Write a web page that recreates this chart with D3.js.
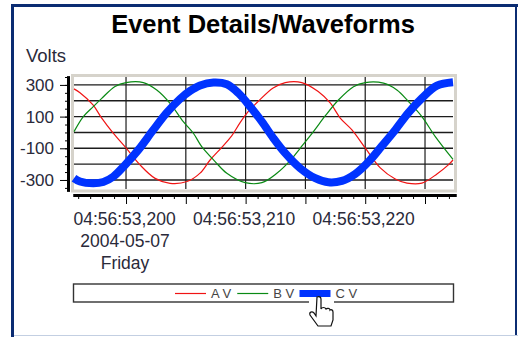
<!DOCTYPE html>
<html>
<head>
<meta charset="utf-8">
<script src="https://cdn.jsdelivr.net/npm/d3@7"></script>
<style>
  html, body { margin: 0; padding: 0; background: #fff; overflow: hidden; }
  text { font-family: "Liberation Sans", Arial, sans-serif; fill: #2a2a3a; }
</style>
</head>
<body>
<div id="chart"></div>
<script>
// time axis is milliseconds past 04:56:53
const aTime = [195.65,196.15,197.24,197.97,198.91,200,201.17,202.43,203.68,205.1,206.19,207.03,208.01,208.85,209.54,210.21,211.05,212.3,213.31,214.7,216.07,217.07,217.91,218.89,220,221.26,222.51,223.49,224.74,226,226.95,227.34];
const aVolts = [275,251,174,90,-3,-98,-205,-290,-321,-310,-257,-174,-94,-20,62,131,196,281,315,315,258,186,91,16,-98,-224,-294,-320,-320,-262,-205,-174];

const bTime = [195.65,196.43,197.26,197.97,199.08,200,201.45,202.57,203.68,204.79,205.63,206.33,207.45,208.43,209.96,211.36,212.61,213.72,214.56,215.67,216.65,217.76,219.02,220,221.53,222.65,223.62,224.74,225.86,227.34];
const bVolts = [5,100,163,215,290,315,315,268,184,68,-5,-90,-184,-258,-317,-317,-258,-178,-100,5,104,205,289,315,311,268,195,100,-26,-170];

const cTime = [195.65,196.15,197.26,198.1,198.94,199.92,201.03,202.28,203.41,204.52,205.36,206.19,207.31,208.43,209.4,210.38,211.36,212.33,213.31,214.56,215.82,216.93,218.05,219.16,220.28,221.4,222.51,223.62,224.74,226,227.34];
const cVolts = [-289,-310,-321,-313,-279,-205,-110,16,125,212,262,297,315,304,248,163,68,-37,-131,-226,-289,-315,-306,-262,-185,-85,16,125,216,295,317];

const yTicks = [300, 100, -100, -300];
const yGrid = [300, 200, 100, 0, -100, -200, -300];
const yMinor = [350, 250, 150, 50, -50, -150, -250, -350];
const xTicks = [200, 205, 210, 215, 220, 225];
const xLabels = {200: "04:56:53,200", 210: "04:56:53,210", 220: "04:56:53,220"};
const xMinor = [196,197,198,199,201,202,203,204,206,207,208,209,211,212,213,214,216,217,218,219,221,222,223,224,226,227];
const legendNames = ["A V", "B V", "C V"];
const legendColors = ["#f01414", "#0a8a14", "#0033ff"];

const svg = d3.select("#chart").append("svg")
    .attr("width", 518)
    .attr("height", 337);

// panel border
svg.append("rect").attr("x", 12.5).attr("y", 5.5).attr("width", 520).attr("height", 340)
    .attr("fill", "#fff").attr("stroke", "#0b2c72").attr("stroke-width", 3);
svg.append("line").attr("x1", 516).attr("x2", 516).attr("y1", 4).attr("y2", 335)
    .attr("stroke", "#0b2c72").attr("stroke-width", 2);
svg.append("line").attr("x1", 14).attr("x2", 518).attr("y1", 335.5).attr("y2", 335.5)
    .attr("stroke", "#c3cfe2").attr("stroke-width", 1);

svg.append("text").attr("x", 263).attr("y", 32.5)
    .attr("text-anchor", "middle").style("font-size", "25.5px").style("font-weight", "bold")
    .style("fill", "#000")
    .text("Event Details/Waveforms");

svg.append("text").attr("x", 26).attr("y", 61.5).style("font-size", "18.5px").text("Volts");

const x = d3.scaleLinear().domain([195.65, 227.34]).range([74, 453]);
const y = d3.scaleLinear().domain([350, -357]).range([77, 189]);

// plot frame
svg.append("rect").attr("x", 72.5).attr("y", 75.5).attr("width", 383).attr("height", 115.5)
    .attr("fill", "#fff").attr("stroke", "#d6d3cb").attr("stroke-width", 3);

// grid
svg.append("g").selectAll("line").data(yGrid).join("line")
    .attr("x1", 74).attr("x2", 453)
    .attr("y1", d => y(d)).attr("y2", d => y(d))
    .attr("stroke", "#1c1c1c").attr("stroke-width", 1.4);
svg.append("g").selectAll("line").data(xTicks).join("line")
    .attr("x1", d => x(d)).attr("x2", d => x(d))
    .attr("y1", 77).attr("y2", 189)
    .attr("stroke", "#1c1c1c").attr("stroke-width", 1.2);

// waveforms
const line = d3.line().curve(d3.curveCatmullRom.alpha(0.5));
const wave = (t, v) => line(t.map((d, i) => [x(d), y(v[i])]));

svg.append("path").attr("d", wave(aTime, aVolts))
    .attr("fill", "none").attr("stroke", legendColors[0]).attr("stroke-width", 1.2);
svg.append("path").attr("d", wave(bTime, bVolts))
    .attr("fill", "none").attr("stroke", legendColors[1]).attr("stroke-width", 1.2);
svg.append("path").attr("d", wave(cTime, cVolts))
    .attr("fill", "none").attr("stroke", legendColors[2]).attr("stroke-width", 8);

// y axis
const yAxisScale = y.copy().domain([y.invert(76), y.invert(191)]).range([76, 191]);
const yAxisG = svg.append("g").attr("transform", "translate(68,0)");
yAxisG.call(d3.axisLeft(yAxisScale).tickValues(yMinor).tickSize(3).tickSizeOuter(0).tickFormat(""));
yAxisG.append("g").call(d3.axisLeft(yAxisScale).tickValues(yGrid).tickSize(3).tickSizeOuter(0).tickFormat(""));
yAxisG.append("g").call(d3.axisLeft(yAxisScale).tickValues(yTicks).tickSize(8).tickSizeOuter(0).tickPadding(6)
    .tickFormat(d => String(d)));
yAxisG.selectAll(".domain").attr("stroke", "#000").attr("stroke-width", 3);
yAxisG.selectAll("text").style("font-size", "17px").style("font-family", null);

// x axis
const xAxisScale = x.copy().domain([x.invert(73), x.invert(456)]).range([73, 456]);
const xAxisG = svg.append("g").attr("transform", "translate(0,195)");
xAxisG.call(d3.axisBottom(xAxisScale).tickValues(xMinor).tickSize(4).tickSizeOuter(0).tickFormat(""));
xAxisG.append("g").call(d3.axisBottom(xAxisScale).tickValues(xTicks).tickSize(9).tickSizeOuter(0)
    .tickFormat(d => xLabels[d] || ""));
xAxisG.selectAll(".domain").attr("stroke", "#000").attr("stroke-width", 3);
xAxisG.selectAll("text").style("font-size", "17.5px").attr("y", 30).attr("dy", 0).attr("dx", -2);

svg.append("text").attr("x", 125).attr("y", 247).attr("text-anchor", "middle")
    .style("font-size", "17.5px").text("2004-05-07");
svg.append("text").attr("x", 125).attr("y", 269).attr("text-anchor", "middle")
    .style("font-size", "17.5px").text("Friday");

// legend
svg.append("rect").attr("x", 73.5).attr("y", 284).attr("width", 380).attr("height", 18)
    .attr("fill", "#fff").attr("stroke", "#333").attr("stroke-width", 1.4);

const legendX = d3.scalePoint().domain(legendNames).range([175, 299.5]);
const legend = svg.append("g").selectAll("g").data(legendNames).join("g")
    .attr("transform", d => `translate(${legendX(d)},293.5)`);
legend.append("line").attr("x1", 0).attr("x2", 31).attr("y1", 0).attr("y2", 0)
    .attr("stroke", (d, i) => legendColors[i])
    .attr("stroke-width", (d, i) => i === 2 ? 7 : 1.2);
legend.append("text").attr("x", 36).attr("y", 4.5)
    .style("font-size", "13px").style("fill", "#444")
    .text(d => d);

// hand cursor
svg.append("rect").attr("x", 309).attr("y", 298).attr("width", 25).attr("height", 8).attr("fill", "#fff");
svg.append("path")
    .attr("d", "M317,297 C319,296 321,297 321,299 L321,309 C322,307 325,307 326,309 C327,308 330,308 330,310 C331,309 333,310 333,312 L333,320 L331,326 L318,326 L310,315 C309,312 312,311 314,313 L316,316 Z")
    .attr("fill", "#fff").attr("stroke", "#111").attr("stroke-width", 1.2);
</script>
</body>
</html>
